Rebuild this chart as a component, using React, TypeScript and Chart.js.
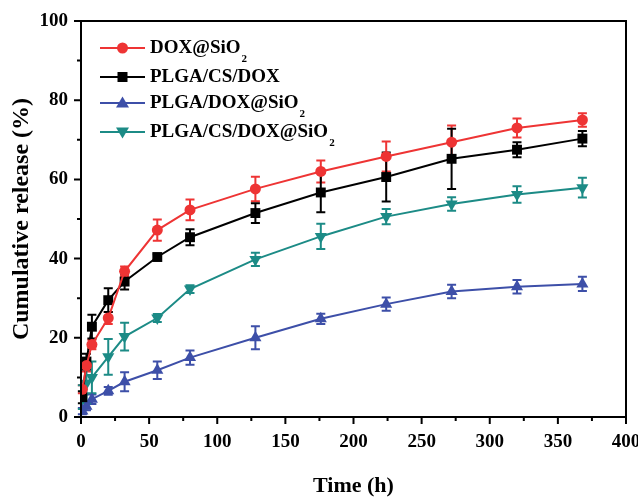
import React, { useEffect, useRef } from 'react';
import { Chart, registerables } from 'chart.js';

Chart.register(...registerables);

// ---- data ----
const times = [1, 4, 8, 20, 32, 56, 80, 128, 176, 224, 272, 320, 368];

const doxSiO2 = [7, 13, 18.3, 25, 36.8, 47.2, 52.3, 57.6, 62, 65.8, 69.4, 73, 75];
const doxSiO2Err = [1, 1.5, 1.2, 1.5, 1.2, 2.7, 2.6, 3.1, 2.8, 3.8, 4.2, 2.4, 1.7];

const plgaCsDox = [5, 14, 22.8, 29.5, 34.2, 40.4, 45.4, 51.5, 56.7, 60.6, 65.2, 67.5, 70.3];
const plgaCsDoxErr = [1.5, 2, 3, 3, 2, 0.7, 2, 2.5, 5, 6.2, 7.6, 1.9, 1.9];

const plgaDoxSiO2 = [1.5, 2.7, 4.5, 6.6, 8.9, 11.8, 15, 20, 24.8, 28.5, 31.7, 32.9, 33.6];
const plgaDoxSiO2Err = [0.8, 1, 1.2, 1, 2.4, 2.2, 1.8, 2.9, 1.3, 1.7, 1.7, 1.7, 1.8];

const plgaCsDoxSiO2 = [5, 8.5, 10, 15.2, 20.3, 25, 32.3, 39.8, 45.6, 50.6, 53.8, 56.2, 57.9];
const plgaCsDoxSiO2Err = [3, 5, 4, 4.5, 3.5, 1, 1, 1.7, 3.2, 1.9, 1.7, 2.1, 2.5];

const legendMain = ['DOX@SiO', 'PLGA/CS/DOX', 'PLGA/DOX@SiO', 'PLGA/CS/DOX@SiO'];
const legendSub = ['2', '', '2', '2'];

const xMinorTicks = [25, 75, 125, 175, 225, 275, 325, 375];
const yMinorTicks = [10, 30, 50, 70, 90];

const RED = '#ee3434';
const BLACK = '#000000';
const BLUE = '#3d4fa8';
const TEAL = '#1c8b86';

const FONT = '"Liberation Serif", "Times New Roman", serif';

function drawMarker(ctx: CanvasRenderingContext2D, style: string, x: number, y: number, color: string) {
  ctx.save();
  ctx.fillStyle = color;
  ctx.beginPath();
  if (style === 'circle') {
    ctx.arc(x, y, 5.5, 0, Math.PI * 2);
  } else if (style === 'rect') {
    ctx.rect(x - 5, y - 5, 10, 10);
  } else if (style === 'up') {
    ctx.moveTo(x, y - 6.5);
    ctx.lineTo(x + 6.5, y + 4.5);
    ctx.lineTo(x - 6.5, y + 4.5);
    ctx.closePath();
  } else {
    ctx.moveTo(x, y + 6.5);
    ctx.lineTo(x + 6.5, y - 4.5);
    ctx.lineTo(x - 6.5, y - 4.5);
    ctx.closePath();
  }
  ctx.fill();
  ctx.restore();
}

const errorBarPlugin = {
  id: 'errorBars',
  beforeDatasetsDraw(chart: any) {
    const ctx = chart.ctx;
    const xs = chart.scales.x;
    const ys = chart.scales.y;
    chart.data.datasets.forEach((ds: any) => {
      ctx.save();
      ctx.strokeStyle = ds.borderColor;
      ctx.lineWidth = 2;
      ds.data.forEach((p: any, i: number) => {
        const e = ds.errors[i];
        const x = xs.getPixelForValue(p.x);
        const y1 = ys.getPixelForValue(p.y + e);
        const y2 = ys.getPixelForValue(p.y - e);
        ctx.beginPath();
        ctx.moveTo(x, y1);
        ctx.lineTo(x, y2);
        ctx.moveTo(x - 4.5, y1);
        ctx.lineTo(x + 4.5, y1);
        ctx.moveTo(x - 4.5, y2);
        ctx.lineTo(x + 4.5, y2);
        ctx.stroke();
      });
      ctx.restore();
    });
  },
};

const framePlugin = {
  id: 'frameTicks',
  afterDraw(chart: any) {
    const ctx = chart.ctx;
    const a = chart.chartArea;
    const xs = chart.scales.x;
    const ys = chart.scales.y;
    ctx.save();
    ctx.strokeStyle = '#000';
    ctx.lineWidth = 2;
    ctx.strokeRect(a.left, a.top, a.right - a.left, a.bottom - a.top);
    ctx.beginPath();
    xs.ticks.forEach((t: any) => {
      const x = xs.getPixelForValue(t.value);
      ctx.moveTo(x, a.bottom);
      ctx.lineTo(x, a.bottom + 7);
    });
    xMinorTicks.forEach((v) => {
      const x = xs.getPixelForValue(v);
      ctx.moveTo(x, a.bottom);
      ctx.lineTo(x, a.bottom + 4);
    });
    ys.ticks.forEach((t: any) => {
      const y = ys.getPixelForValue(t.value);
      ctx.moveTo(a.left, y);
      ctx.lineTo(a.left - 7, y);
    });
    yMinorTicks.forEach((v) => {
      const y = ys.getPixelForValue(v);
      ctx.moveTo(a.left, y);
      ctx.lineTo(a.left - 4, y);
    });
    ctx.stroke();
    ctx.restore();
  },
};

const legendRows = [48, 77, 103, 132];
const legendPlugin = {
  id: 'customLegend',
  afterDraw(chart: any) {
    const ctx = chart.ctx;
    ctx.save();
    chart.data.datasets.forEach((ds: any, i: number) => {
      const y = legendRows[i];
      ctx.strokeStyle = ds.borderColor;
      ctx.lineWidth = 2;
      ctx.beginPath();
      ctx.moveTo(100, y);
      ctx.lineTo(145, y);
      ctx.stroke();
      drawMarker(ctx, ds.markerKind, 122.5, y, ds.borderColor);
      ctx.fillStyle = '#000';
      ctx.textBaseline = 'middle';
      ctx.textAlign = 'left';
      ctx.font = `bold 19px ${FONT}`;
      const main = legendMain[i];
      ctx.fillText(main, 150, y);
      if (legendSub[i]) {
        const w = ctx.measureText(main).width;
        ctx.font = `bold 11px ${FONT}`;
        ctx.fillText(legendSub[i], 150 + w + 1, y + 11);
      }
    });
    ctx.restore();
  },
};

function makeData(vals: number[]) {
  return times.map((t, i) => ({ x: t, y: vals[i] }));
}

export default function App() {
  const ref = useRef<HTMLCanvasElement>(null);
  useEffect(() => {
    document.body.style.margin = '0';
    const canvas = ref.current;
    if (!canvas) return;
    const tickFont = { family: FONT, size: 19, weight: 'bold' as const };
    const xTitleFont = { family: FONT, size: 22, weight: 'bold' as const, lineHeight: 1.1 };
    const yTitleFont = { family: FONT, size: 24, weight: 'bold' as const, lineHeight: 1.0 };
    const chart = new Chart(canvas, {
      type: 'scatter',
      data: {
        datasets: [
          {
            label: 'DOX@SiO2', data: makeData(doxSiO2), errors: doxSiO2Err, markerKind: 'circle',
            borderColor: RED, backgroundColor: RED, pointStyle: 'circle', pointRadius: 5.5,
            showLine: true, borderWidth: 2, pointBorderWidth: 0,
          } as any,
          {
            label: 'PLGA/CS/DOX', data: makeData(plgaCsDox), errors: plgaCsDoxErr, markerKind: 'rect',
            borderColor: BLACK, backgroundColor: BLACK, pointStyle: 'rect', pointRadius: 7,
            showLine: true, borderWidth: 2, pointBorderWidth: 0,
          } as any,
          {
            label: 'PLGA/DOX@SiO2', data: makeData(plgaDoxSiO2), errors: plgaDoxSiO2Err, markerKind: 'up',
            borderColor: BLUE, backgroundColor: BLUE, pointStyle: 'triangle', pointRadius: 7,
            showLine: true, borderWidth: 2, pointBorderWidth: 0,
          } as any,
          {
            label: 'PLGA/CS/DOX@SiO2', data: makeData(plgaCsDoxSiO2), errors: plgaCsDoxSiO2Err, markerKind: 'down',
            borderColor: TEAL, backgroundColor: TEAL, pointStyle: 'triangle', pointRotation: 180, pointRadius: 7,
            showLine: true, borderWidth: 2, pointBorderWidth: 0,
          } as any,
        ],
      },
      options: {
        responsive: false,
        animation: false,
        layout: { padding: { top: 21, right: 12, left: 0, bottom: 0 } },
        plugins: { legend: { display: false }, tooltip: { enabled: false } },
        scales: {
          x: {
            type: 'linear', min: 0, max: 400,
            ticks: { stepSize: 50, padding: 14, color: '#000', font: tickFont, maxRotation: 0 },
            grid: { display: false, drawTicks: false },
            border: { display: false },
            title: { display: true, text: 'Time (h)', color: '#000', font: xTitleFont, padding: { top: 0, bottom: 0 } },
            afterFit: (s: any) => { s.height = 81; s.paddingLeft = 0; s.paddingRight = 0; },
          },
          y: {
            type: 'linear', min: 0, max: 100,
            ticks: { stepSize: 20, padding: 13, color: '#000', font: tickFont },
            grid: { display: false, drawTicks: false },
            border: { display: false },
            title: { display: true, text: 'Cumulative release (%)', color: '#000', font: yTitleFont, padding: { top: 10, bottom: 0 } },
            afterFit: (s: any) => { s.width = 81; s.paddingTop = 0; s.paddingBottom = 0; },
          },
        },
      } as any,
      plugins: [errorBarPlugin, framePlugin, legendPlugin],
    });
    return () => chart.destroy();
  }, []);
  return (
    <div style={{ width: 638, height: 498 }}>
      <canvas ref={ref} width={638} height={498} style={{ display: 'block', width: 638, height: 498 }} />
    </div>
  );
}
